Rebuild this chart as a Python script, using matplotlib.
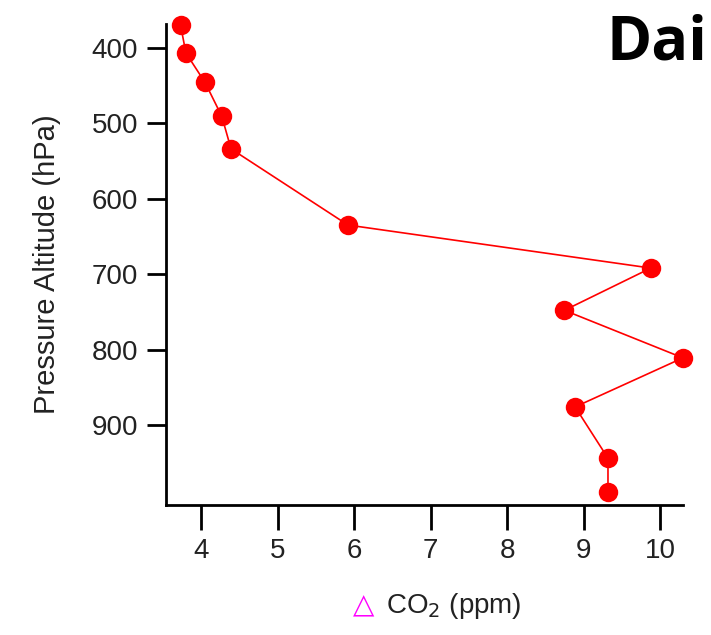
import matplotlib
matplotlib.use('Agg')
import matplotlib.pyplot as plt

plt.rcParams['font.family'] = ['Liberation Sans Narrow', 'Liberation Sans', 'DejaVu Sans']

# data (delta CO2 in ppm vs pressure in hPa)
delta_co2 = [3.73, 3.80, 4.05, 4.27, 4.39, 5.92, 9.88, 8.75, 10.30, 8.89, 9.32, 9.32]
pressure = [370, 407, 446, 491, 534, 635, 692, 748, 811, 876, 944, 989]
x_ticks = [4, 5, 6, 7, 8, 9, 10]
y_ticks = [400, 500, 600, 700, 800, 900]

fig = plt.figure(figsize=(7.11, 6.35), dpi=100)
ax = fig.add_axes([0.2335, 0.2047, 0.727, 0.757])

ax.plot(delta_co2, pressure, color='#ff0000', linewidth=1.2,
        marker='o', markersize=14, markeredgewidth=0, clip_on=False)

ax.set_xlim(3.54, 10.30)
ax.set_ylim(1006, 369)
ax.set_xticks(x_ticks)
ax.set_yticks(y_ticks)

for side in ['top', 'right']:
    ax.spines[side].set_visible(False)
for side in ['left', 'bottom']:
    ax.spines[side].set_linewidth(2)
ax.tick_params(axis='x', direction='out', length=18, width=2, labelsize=20, pad=6, labelcolor='#222222')
ax.tick_params(axis='y', direction='out', length=14, width=2, labelsize=20, pad=6, labelcolor='#222222')

ax.set_ylabel('Pressure Altitude (hPa)', fontsize=21, labelpad=22, color='#222222')
fig.text(0.512, 0.047, '\u25b3', color='#ff00ff', fontsize=20, ha='center', va='center',
         family=['DejaVu Sans'])
fig.text(0.543, 0.045, 'CO$_2$ (ppm)', color='#222222', fontsize=20, ha='left', va='center')

# partial title, cut off on the right in the source
fig.text(0.853, 0.930, 'Dai', fontsize=44, fontweight='bold', family=['Open Sans', 'DejaVu Sans'],
         ha='left', va='center', color='black')

fig.savefig('out.png', dpi=100)
